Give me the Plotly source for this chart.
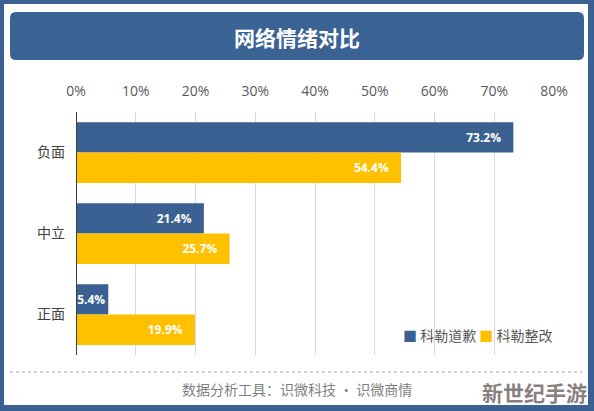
import plotly.graph_objects as go

categories = ["负面", "中立", "正面"]
series_names = ["科勒道歉", "科勒整改"]
apology = [73.2, 21.4, 5.4]
rectify = [54.4, 25.7, 19.9]
x_ticks = [0, 10, 20, 30, 40, 50, 60, 70, 80]

BLUE = "#3a6191"
YELLOW = "#ffc000"
W, H = 594, 411
L, R, T, B = 76, 40, 112, 56
PW, PH = W - L - R, H - T - B

def px(x):
    return (x - L) / PW

def py(y):
    return (H - B - y) / PH

def rounded_rect(x0, y0, x1, y1, r):
    X = lambda v: f"{px(v):.5f}"
    Y = lambda v: f"{py(v):.5f}"
    return (f"M {X(x0 + r)},{Y(y0)} L {X(x1 - r)},{Y(y0)} Q {X(x1)},{Y(y0)} {X(x1)},{Y(y0 + r)} "
            f"L {X(x1)},{Y(y1 - r)} Q {X(x1)},{Y(y1)} {X(x1 - r)},{Y(y1)} "
            f"L {X(x0 + r)},{Y(y1)} Q {X(x0)},{Y(y1)} {X(x0)},{Y(y1 - r)} "
            f"L {X(x0)},{Y(y0 + r)} Q {X(x0)},{Y(y0)} {X(x0 + r)},{Y(y0)} Z")

FONT = "Open Sans, Noto Sans CJK SC, sans-serif"
NBSP = "\u00a0"

def label(v):
    return f"{v:.1f}%" + (NBSP * 3 if v > 10 else "")

fig = go.Figure()
for name, vals, col in [(series_names[0], apology, BLUE), (series_names[1], rectify, YELLOW)]:
    fig.add_trace(go.Bar(
        y=categories, x=vals, name=name, orientation="h",
        marker=dict(color=col, line=dict(width=0)),
        text=[label(v) for v in vals], textposition="inside",
        insidetextanchor="end",
        textfont=dict(color="white", size=12, family="Open Sans, sans-serif", weight="bold"),
        hoverinfo="skip", showlegend=False,
    ))

shapes = [
    dict(type="rect", xref="paper", yref="paper", x0=px(4), x1=px(588), y0=py(405), y1=py(4),
         fillcolor="white", line=dict(width=0), layer="below"),
    dict(type="path", xref="paper", yref="paper", path=rounded_rect(10, 12, 584, 60, 6),
         fillcolor="#3a6292", line=dict(width=0), layer="below"),
    dict(type="line", xref="paper", yref="paper", x0=px(10), x1=px(582), y0=py(372), y1=py(372),
         line=dict(color="#a6a6a6", width=1, dash="dot")),
    dict(type="line", xref="x", yref="paper", x0=0, x1=0, y0=0, y1=1,
         line=dict(color="#404040", width=2)),
]

legend_text = (f"<span style='color:{BLUE}'>■</span> {series_names[0]} "
               f"<span style='color:{YELLOW}'>■</span> {series_names[1]}")

annotations = [
    dict(text="<b>网络情绪对比</b>", xref="paper", yref="paper", x=px(297), y=py(37),
         xanchor="center", yanchor="middle", showarrow=False,
         font=dict(color="white", size=21, family="Noto Sans CJK SC")),
    dict(text=legend_text, xref="paper", yref="paper", x=px(401), y=py(335),
         xanchor="left", yanchor="middle", showarrow=False,
         font=dict(color="#595959", size=14, family="Noto Sans CJK SC")),
    dict(text="数据分析工具：识微科技 • 识微商情", xref="paper", yref="paper", x=px(297), y=py(389),
         xanchor="center", yanchor="middle", showarrow=False,
         font=dict(color="#7f7f7f", size=14, family="Noto Sans CJK SC")),
    dict(text="<b>新世纪手游</b>", xref="paper", yref="paper", x=px(589), y=py(392),
         xanchor="right", yanchor="middle", showarrow=False,
         font=dict(color="#8a7f80", size=21, family="Noto Sans CJK SC")),
]

fig.update_layout(
    width=W, height=H,
    margin=dict(l=L, r=R, t=T, b=B, pad=0),
    paper_bgcolor="#3a6191",
    plot_bgcolor="rgba(0,0,0,0)",
    barmode="group", bargap=0.25, bargroupgap=0,
    font=dict(family=FONT, color="#595959"),
    showlegend=False,
    uniformtext=dict(minsize=12, mode="show"),
    shapes=shapes,
    annotations=annotations,
    xaxis=dict(side="top", range=[0, 80], tickvals=x_ticks,
               ticktext=[f"{v}%" for v in x_ticks],
               showgrid=True, gridcolor="#d9d9d9", gridwidth=1,
               zeroline=False, showline=False, ticks="",
               tickfont=dict(size=14, color="#595959", family="Open Sans, sans-serif"),
               ticklabelstandoff=12, fixedrange=True),
    yaxis=dict(autorange="reversed", showgrid=False, zeroline=False,
               showline=False, ticks="", ticklabelstandoff=10,
               tickfont=dict(size=14, color="#404040", family="Noto Sans CJK SC"),
               fixedrange=True),
)

fig.write_html("out.html", config={"displayModeBar": False})
